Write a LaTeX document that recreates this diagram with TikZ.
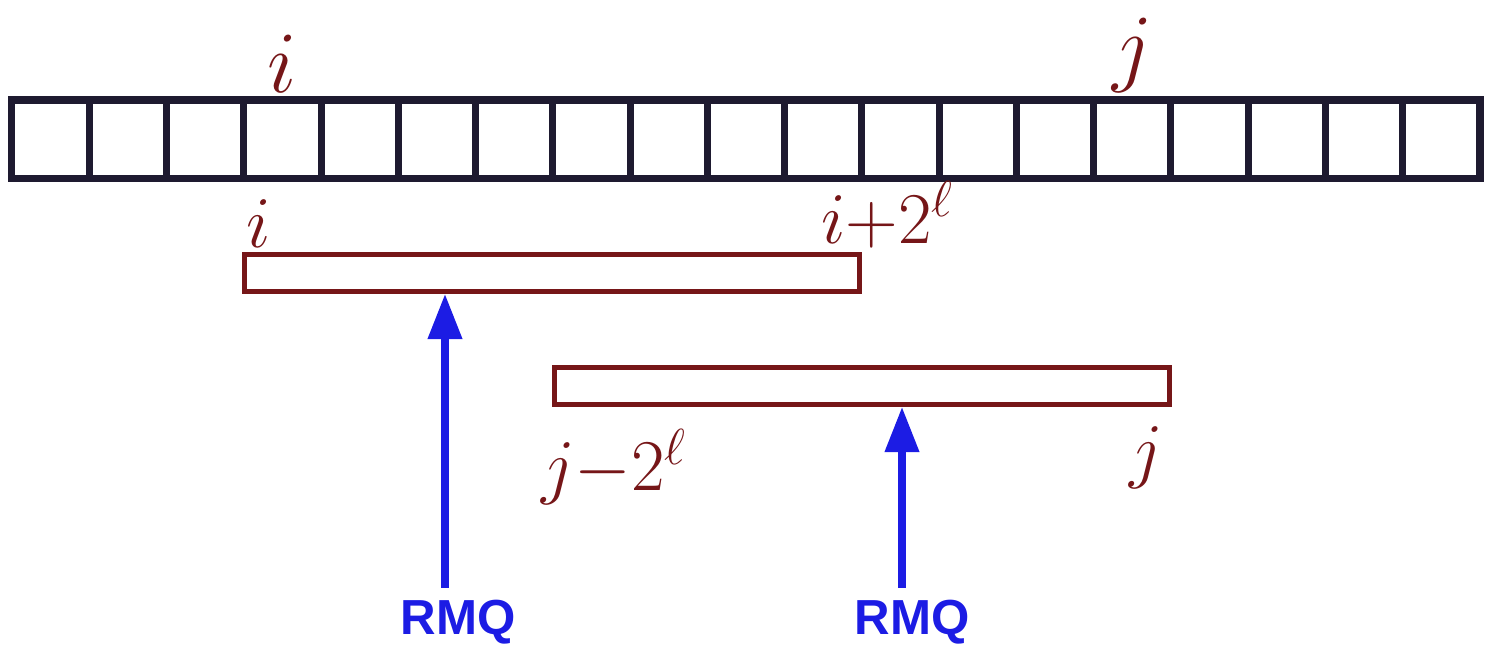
\documentclass[tikz,border=0pt]{standalone}
\usepackage{fontspec}
\setsansfont{Liberation Sans}
\usepackage{tikz}
\usetikzlibrary{arrows.meta, positioning}
\definecolor{inkblack}{RGB}{30,26,48}
\definecolor{inkred}{RGB}{118,22,24}
\definecolor{inkblue}{RGB}{28,28,228}
\tikzset{
  cell/.style={
    rectangle, draw=inkblack, line width=2pt,
    minimum width=0.7726cm, minimum height=0.78cm, inner sep=0pt
  },
  span/.style={
    rectangle, draw=inkred, line width=1.4pt,
    minimum width=6.15cm, minimum height=0.37cm, inner sep=0pt
  },
  idx/.style={text=inkred, inner sep=1pt, font=\fontsize{38}{44}\selectfont},
  spanlbl/.style={text=inkred, inner sep=1pt, font=\fontsize{21}{25}\selectfont},
  rmq/.style={text=inkblue, font=\sffamily\bfseries\fontsize{14}{16}\selectfont},
  rmqarrow/.style={-{Triangle[length=0.45cm, width=0.33cm]}, line width=2pt, color=inkblue}
}
\begin{document}
\begin{tikzpicture}[x=0.01cm, y=-0.01cm]
  \useasboundingbox (0,0) rectangle (1489,645);

  % the array, 19 cells
  \foreach \k in {0,...,18}
    \node[cell] (c\k) at ({12+77.26*(\k+0.5)}, 139) {};

  % indices above the array
  \node[idx, anchor=south] (topi) at (c3.north) {$i$};
  \node[idx, anchor=south] (topj) at (c14.north) {$j$};

  % the two overlapping ranges
  \node[span] (lowbar) at (552, 273) {};
  \node[span] (highbar) at (862, 386) {};

  \node[spanlbl, anchor=south west] (lowi) at (lowbar.north west) {$i$};
  \node[spanlbl, anchor=south west, xshift=-0.45cm] (lowend)
    at (lowbar.north east) {$i{+}2^{\ell}$};
  \node[spanlbl, anchor=north west, xshift=-0.15cm, yshift=-0.18cm] (highstart)
    at (highbar.south west) {$j{-}2^{\ell}$};
  \node[spanlbl, anchor=north east, xshift=-0.05cm, yshift=-0.15cm] (highj)
    at (highbar.south east) {$j$};

  % RMQ queries
  \node[rmq] (rmqA) at (458, 622) {RMQ};
  \node[rmq] (rmqB) at (912, 622) {RMQ};

  \draw[rmqarrow] ([xshift=-0.13cm]rmqA.north) -- ([xshift=-0.13cm]rmqA.north |- lowbar.south);
  \draw[rmqarrow] ([xshift=-0.1cm]rmqB.north) -- ([xshift=-0.1cm]rmqB.north |- highbar.south);
\end{tikzpicture}
\end{document}
